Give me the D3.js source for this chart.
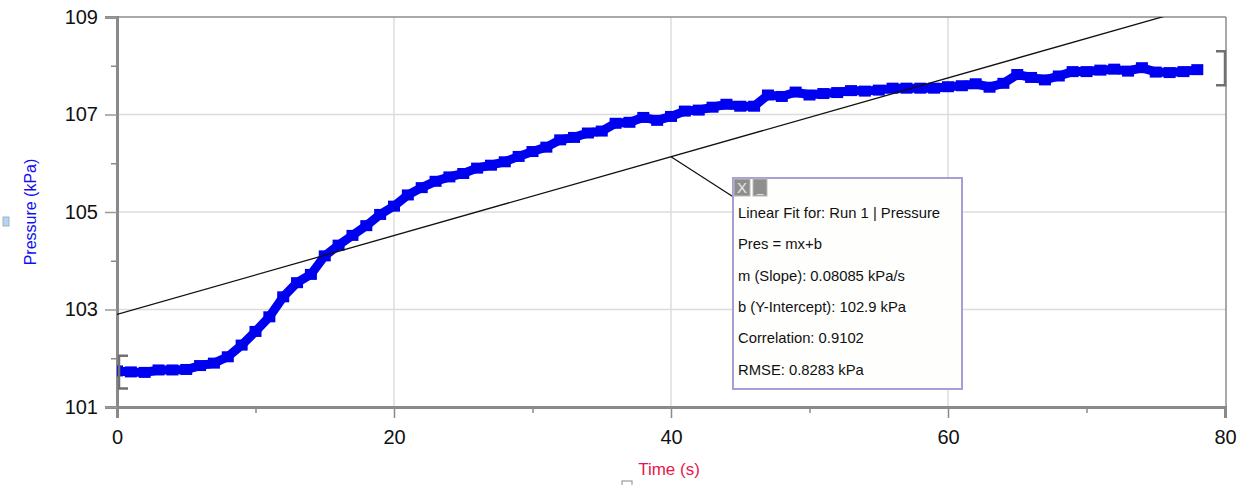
<!DOCTYPE html>
<html>
<head>
<meta charset="utf-8">
<script src="https://cdn.jsdelivr.net/npm/d3@7"></script>
<style>
  body { margin: 0; background: #fff; }
  svg { display: block; font-family: "Liberation Sans", Arial, Helvetica, sans-serif; }
</style>
</head>
<body>
<svg id="chart" width="1244" height="485"></svg>
<script>
// run 1 – pressure readings, one per second
const times = d3.range(0, 79);
const pressure = [
  101.74, 101.72, 101.71, 101.76, 101.76, 101.77, 101.85, 101.90, 102.03, 102.27,
  102.55, 102.85, 103.26, 103.55, 103.72, 104.10, 104.32, 104.52, 104.72, 104.95,
  105.12, 105.35, 105.50, 105.63, 105.72, 105.79, 105.90, 105.96, 106.03, 106.14,
  106.24, 106.33, 106.48, 106.53, 106.62, 106.66, 106.82, 106.84, 106.94, 106.88,
  106.96, 107.07, 107.09, 107.15, 107.21, 107.17, 107.17, 107.40, 107.37, 107.46,
  107.40, 107.43, 107.45, 107.49, 107.48, 107.50, 107.54, 107.54, 107.54, 107.54,
  107.57, 107.59, 107.63, 107.56, 107.64, 107.82, 107.76, 107.71, 107.79, 107.88,
  107.88, 107.91, 107.93, 107.89, 107.96, 107.87, 107.86, 107.88, 107.92
];

// linear fit shown in the callout
const slope = 0.08085;
const intercept = 102.9;
const fitLines = [
  "Linear Fit for: Run 1 | Pressure",
  "Pres = mx+b",
  "m (Slope): 0.08085 kPa/s",
  "b (Y-Intercept): 102.9 kPa",
  "Correlation: 0.9102",
  "RMSE: 0.8283 kPa"
];

const xMajor = [0, 20, 40, 60, 80];
const xMinor = [10, 30, 50, 70];
const yMajor = [101, 103, 105, 107, 109];
const yMinor = [102, 104, 106, 108];

const data = times.map((t, i) => ({ t: t, p: pressure[i] }));

const svg = d3.select('#chart');
const pLeft = 117, pRight = 1226, pTop = 17, pBottom = 407;

const x = d3.scaleLinear().domain([0, 80]).range([pLeft, pRight - 1]);
const y = d3.scaleLinear().domain([101, 109]).range([pBottom, pTop]);

svg.append('clipPath').attr('id', 'plot')
  .append('rect').attr('x', pLeft).attr('y', pTop)
  .attr('width', pRight - pLeft).attr('height', pBottom - pTop);

// grid
svg.append('g').selectAll('line').data([107, 105, 103]).join('line')
  .attr('x1', pLeft).attr('x2', pRight)
  .attr('y1', d => y(d)).attr('y2', d => y(d))
  .attr('stroke', '#dcdcdc').attr('stroke-width', 1.5);
svg.append('g').selectAll('line').data([20, 40, 60]).join('line')
  .attr('x1', d => x(d)).attr('x2', d => x(d))
  .attr('y1', pTop).attr('y2', pBottom)
  .attr('stroke', '#dcdcdc').attr('stroke-width', 1.5);

// frame: thin top and right edges
svg.append('line').attr('x1', pLeft).attr('x2', pRight).attr('y1', pTop).attr('y2', pTop)
  .attr('stroke', '#8c8c8c').attr('stroke-width', 1.5);
svg.append('line').attr('x1', pRight).attr('x2', pRight).attr('y1', pTop).attr('y2', pBottom)
  .attr('stroke', '#8c8c8c').attr('stroke-width', 1.5);

// x axis
const xAxis = svg.append('g').attr('transform', `translate(0,${pBottom})`)
  .call(d3.axisBottom(x).tickValues(xMajor).tickSize(11).tickPadding(12).tickFormat(d3.format('d')));
xAxis.select('.domain').attr('stroke', '#8a8a8a').attr('stroke-width', 3);
xAxis.selectAll('.tick line').attr('stroke', '#8a8a8a').attr('stroke-width', 1.5);
xAxis.selectAll('.tick text').attr('font-size', 20).attr('fill', '#111');
svg.append('g').attr('transform', `translate(0,${pBottom})`)
  .call(d3.axisBottom(x).tickValues(xMinor).tickSize(6).tickFormat(''))
  .call(g => g.select('.domain').remove())
  .selectAll('.tick line').attr('stroke', '#8a8a8a').attr('stroke-width', 1.5);

// y axis
const yAxis = svg.append('g').attr('transform', `translate(${pLeft},0)`)
  .call(d3.axisLeft(y).tickValues(yMajor).tickSize(12).tickPadding(7).tickFormat(d3.format('d')));
yAxis.select('.domain').attr('stroke', '#8a8a8a').attr('stroke-width', 3);
yAxis.selectAll('.tick line').attr('stroke', '#9a9a9a').attr('stroke-width', 1.5);
yAxis.selectAll('.tick text').attr('font-size', 20).attr('fill', '#111');
svg.append('g').attr('transform', `translate(${pLeft},0)`)
  .call(d3.axisLeft(y).tickValues(yMinor).tickSize(6).tickFormat(''))
  .call(g => g.select('.domain').remove())
  .selectAll('.tick line').attr('stroke', '#8a8a8a').attr('stroke-width', 1.5);

// data run
const plot = svg.append('g').attr('clip-path', 'url(#plot)');
plot.append('path').datum(data)
  .attr('d', d3.line().x(d => x(d.t)).y(d => y(d.p)))
  .attr('fill', 'none').attr('stroke', '#0000f0').attr('stroke-width', 9);
plot.selectAll('rect.pt').data(data).join('rect').attr('class', 'pt')
  .attr('x', d => x(d.t) - 6).attr('y', d => y(d.p) - 5.5)
  .attr('width', 12).attr('height', 11).attr('fill', '#0000f0');

// fit line
plot.append('line')
  .attr('x1', x(0)).attr('y1', y(intercept))
  .attr('x2', x(80)).attr('y2', y(intercept + slope * 80))
  .attr('stroke', '#111').attr('stroke-width', 1.3);

// range brackets
const bracket = (bx, y0, y1, dir) => {
  svg.append('path')
    .attr('d', `M${bx + dir * 9},${y0} H${bx} V${y1} H${bx + dir * 9}`)
    .attr('fill', 'none').attr('stroke', '#707070').attr('stroke-width', 2.5);
};
bracket(x(0) + 2, y(102.05), y(101.38), 1);
bracket(pRight - 1, y(108.3), y(107.6), -1);

// callout
const bx = 733, by = 178, bw = 229, bh = 211;
const tx = 40;
svg.append('line').attr('x1', x(tx)).attr('y1', y(intercept + slope * tx))
  .attr('x2', bx + 2).attr('y2', by + 20)
  .attr('stroke', '#111').attr('stroke-width', 1.3);
svg.append('rect').attr('x', bx).attr('y', by).attr('width', bw).attr('height', bh)
  .attr('fill', '#fefefc').attr('stroke', '#a49fd4').attr('stroke-width', 2);
svg.append('rect').attr('x', bx + 1).attr('y', by + 1).attr('width', 16).attr('height', 17)
  .attr('fill', '#8e8e8e').attr('stroke', '#bbb');
svg.append('text').attr('x', bx + 9).attr('y', by + 15).attr('text-anchor', 'middle')
  .attr('font-size', 15).attr('fill', '#e8e8e8').text('X');
svg.append('rect').attr('x', bx + 20).attr('y', by + 1).attr('width', 14).attr('height', 17)
  .attr('fill', '#8e8e8e').attr('stroke', '#bbb');
svg.append('text').attr('x', bx + 27).attr('y', by + 14).attr('text-anchor', 'middle')
  .attr('font-size', 12).attr('fill', '#e8e8e8').text('_');
svg.append('g').selectAll('text').data(fitLines).join('text')
  .attr('x', bx + 5).attr('y', (d, i) => by + 40 + i * 31.3)
  .attr('font-size', 14.8).attr('fill', '#111').text(d => d);

// axis titles
svg.append('text')
  .attr('transform', 'translate(36,212) rotate(-90)')
  .attr('text-anchor', 'middle').attr('font-size', 16).attr('fill', '#1010ee')
  .text('Pressure (kPa)');
svg.append('rect').attr('x', 3).attr('y', 217).attr('width', 6).attr('height', 9)
  .attr('fill', '#b9d3f5').attr('stroke', '#8aa').attr('stroke-width', 0.8);

svg.append('text')
  .attr('x', 669).attr('y', 475).attr('text-anchor', 'middle')
  .attr('font-size', 17).attr('fill', '#e8174a')
  .text('Time (s)');
svg.append('rect').attr('x', 622).attr('y', 481).attr('width', 10).attr('height', 6)
  .attr('fill', '#fff').attr('stroke', '#888').attr('stroke-width', 1);
</script>
</body>
</html>
